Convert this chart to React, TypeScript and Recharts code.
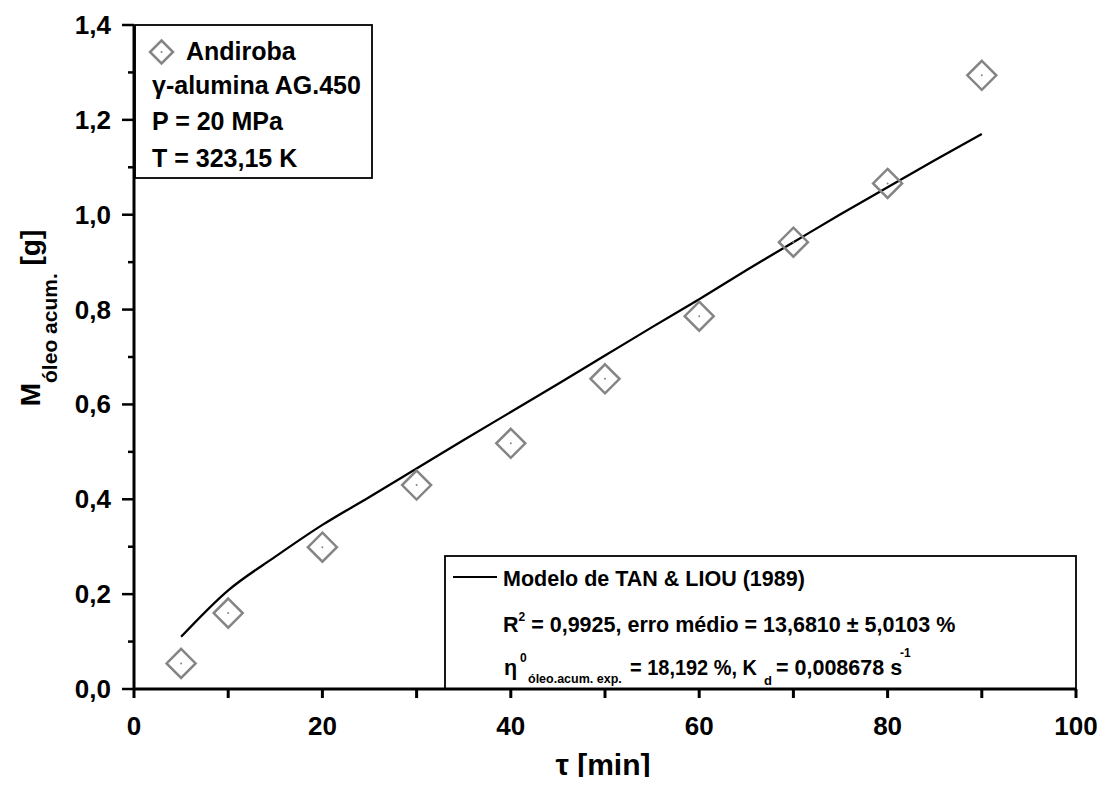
import { ComposedChart, Line, Scatter, XAxis, YAxis } from "recharts";

// experimental points (Andiroba)
const expTime = [5, 10, 20, 30, 40, 50, 60, 70, 80, 90];
const expMass = [0.054, 0.16, 0.299, 0.43, 0.518, 0.654, 0.786, 0.942, 1.066, 1.294];

// model curve (TAN & LIOU)
const modelTime = [5, 10, 15, 20, 25, 30, 35, 40, 45, 50, 55, 60, 65, 70, 75, 80, 85, 90];
const modelMass = [0.11, 0.208, 0.279, 0.346, 0.405, 0.465, 0.525, 0.584, 0.643, 0.703, 0.763, 0.822, 0.883, 0.942, 1.001, 1.058, 1.115, 1.17];

const xTicks = [0, 10, 20, 30, 40, 50, 60, 70, 80, 90, 100];
const yTicks = [0, 0.1, 0.2, 0.3, 0.4, 0.5, 0.6, 0.7, 0.8, 0.9, 1.0, 1.1, 1.2, 1.3, 1.4];

const expData = expTime.map((x, i) => ({ x, y: expMass[i] }));
const modelData = modelTime.map((x, i) => ({ x, y: modelMass[i] }));

const FONT = "'Liberation Sans', Arial, sans-serif";
const GRAY = "#858585";

function Diamond({ cx, cy, r = 14.5 }: { cx?: number; cy?: number; r?: number }) {
  if (cx == null || cy == null) return null;
  return (
    <g>
      <polygon
        points={`${cx},${cy - r} ${cx + r},${cy} ${cx},${cy + r} ${cx - r},${cy}`}
        fill="none"
        stroke={GRAY}
        strokeWidth={2.5}
      />
      <circle cx={cx} cy={cy} r={1} fill={GRAY} />
    </g>
  );
}

function XTick(props: any) {
  const { x, y, payload } = props;
  const v = payload.value as number;
  const major = v % 20 === 0;
  return (
    <g>
      <line x1={x} x2={x} y1={y} y2={y + 9} stroke="#000" strokeWidth={3} />
      {major && (
        <text x={x} y={y + 46} textAnchor="middle" fontFamily={FONT} fontWeight="bold" fontSize={26} fill="#000">
          {v}
        </text>
      )}
    </g>
  );
}

function YTick(props: any) {
  const { x, y, payload } = props;
  const v = payload.value as number;
  const major = Math.round(v * 10) % 2 === 0;
  return (
    <g>
      <line x1={x} x2={x - (major ? 12 : 6)} y1={y} y2={y} stroke="#000" strokeWidth={2.5} />
      {major && (
        <text x={x - 23} y={y + 9} textAnchor="end" fontFamily={FONT} fontWeight="bold" fontSize={26} fill="#000">
          {v.toFixed(1).replace(".", ",")}
        </text>
      )}
    </g>
  );
}

export default function App() {
  return (
    <div style={{ position: "relative", width: 1089, height: 769 }}>
      <ComposedChart width={1089} height={769} margin={{ top: 17, right: 21, left: 0, bottom: 0 }}>
        <XAxis
          type="number"
          dataKey="x"
          domain={[0, 100]}
          ticks={xTicks}
          interval={0}
          height={88}
          tickSize={0}
          tickMargin={0}
          tickLine={false}
          tick={<XTick />}
          axisLine={{ stroke: "#000", strokeWidth: 3 }}
        />
        <XAxis
          xAxisId="top"
          orientation="top"
          type="number"
          domain={[0, 100]}
          height={0}
          tick={false}
          tickLine={false}
          axisLine={{ stroke: "#000", strokeWidth: 2.5 }}
        />
        <YAxis
          type="number"
          domain={[0, 1.4]}
          ticks={yTicks}
          interval={0}
          width={126}
          tickSize={0}
          tickMargin={0}
          tickLine={false}
          tick={<YTick />}
          axisLine={{ stroke: "#000", strokeWidth: 3 }}
        />
        <YAxis
          yAxisId="right"
          orientation="right"
          type="number"
          domain={[0, 1.4]}
          width={0}
          tick={false}
          tickLine={false}
          axisLine={{ stroke: "#000", strokeWidth: 3 }}
        />
        <Line
          data={modelData}
          dataKey="y"
          type="monotone"
          stroke="#000"
          strokeWidth={2.3}
          dot={false}
          isAnimationActive={false}
        />
        <Scatter data={expData} dataKey="y" shape={<Diamond />} isAnimationActive={false} />
      </ComposedChart>

      <svg
        width={1105}
        height={785}
        style={{ position: "absolute", left: -8, top: -8, pointerEvents: "none", overflow: "visible" }}
        fontFamily={FONT}
        fontWeight="bold"
      >
        {/* top-left info box */}
        <rect x={135} y={25} width={237} height={153} fill="none" stroke="#000" strokeWidth={1.8} />
        <Diamond cx={161.5} cy={52} r={11.5} />
        <text x={186} y={60} fontSize={25}>Andiroba</text>
        <text x={152} y={94} fontSize={25}>γ-alumina AG.450</text>
        <text x={152} y={130} fontSize={25}>P = 20 MPa</text>
        <text x={152} y={167} fontSize={25}>T = 323,15 K</text>

        {/* bottom-right model box */}
        <rect x={445} y={556} width={631} height={133} fill="none" stroke="#000" strokeWidth={1.8} />
        <line x1={453} x2={497} y1={577} y2={577} stroke="#000" strokeWidth={2} />
        <text x={503} y={586} fontSize={21.5}>Modelo de TAN &amp; LIOU (1989)</text>
        <text x={503} y={632} fontSize={21.5}>
          R<tspan dy={-11} fontSize={12}>2</tspan>
          <tspan dy={11}> = 0,9925, erro médio = 13,6810 ± 5,0103 %</tspan>
        </text>
        <text x={504} y={675} fontSize={21.5}>η</text>
        <text x={520} y={662} fontSize={12}>0</text>
        <text x={528} y={683} fontSize={12.5}>óleo.acum. exp.</text>
        <text x={630} y={675} fontSize={21.5} textLength={127} lengthAdjust="spacingAndGlyphs">= 18,192 %, K</text>
        <text x={764} y={685} fontSize={13}>d</text>
        <text x={776} y={675} fontSize={21.5}>= 0,008678 s</text>
        <text x={900} y={657} fontSize={12}>-1</text>

        {/* axis titles */}
        <text x={603} y={775} fontSize={30} textAnchor="middle">τ [min]</text>
        <g transform="translate(40, 318) rotate(-90)">
          <text x={0} y={0} fontSize={28} textAnchor="middle">
            M<tspan dy={17} fontSize={21}>óleo acum.</tspan>
            <tspan dy={-17} fontSize={28}> [g]</tspan>
          </text>
        </g>
      </svg>
    </div>
  );
}
